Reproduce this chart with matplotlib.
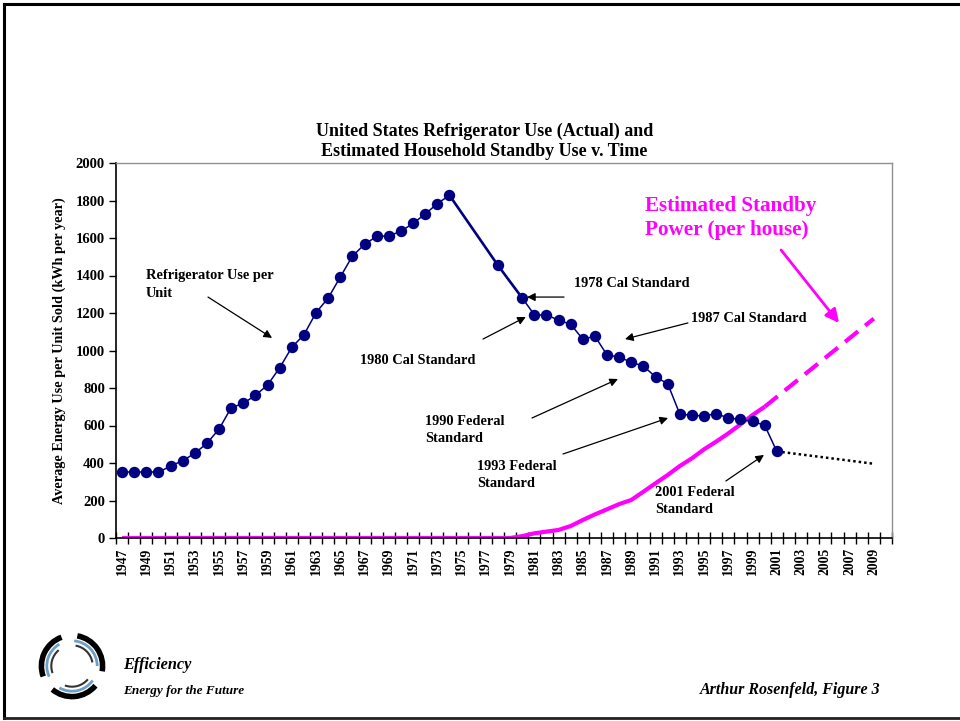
import matplotlib
matplotlib.use("Agg")
import matplotlib.pyplot as plt
from matplotlib.lines import Line2D
from matplotlib.patches import Arc
import numpy as np

# ---------------- data ----------------
fridge_years = [1947, 1948, 1949, 1950, 1951, 1952, 1953, 1954, 1955, 1956,
                1957, 1958, 1959, 1960, 1961, 1962, 1963, 1964, 1965, 1966,
                1967, 1968, 1969, 1970, 1971, 1972, 1973, 1974, 1978, 1980,
                1981, 1982, 1983, 1984, 1985, 1986, 1987, 1988, 1989, 1990,
                1991, 1992, 1993, 1994, 1995, 1996, 1997, 1998, 1999, 2000,
                2001]
fridge_use = [350, 350, 350, 350, 384, 412, 452, 505, 581, 695,
              718, 761, 816, 908, 1017, 1084, 1202, 1280, 1392, 1504,
              1566, 1609, 1611, 1636, 1678, 1728, 1783, 1828, 1454, 1280,
              1191, 1191, 1161, 1140, 1060, 1076, 976, 965, 937, 917,
              859, 823, 661, 654, 651, 663, 640, 633, 622, 601,
              462]
fridge_proj_years = [2001, 2009]
fridge_proj_use = [462, 396]

standby_years = [1947, 1979, 1980, 1981, 1982, 1983, 1984, 1985, 1986, 1987,
                 1988, 1989, 1990, 1991, 1992, 1993, 1994, 1995, 1996, 1997,
                 1998, 1999, 2000]
standby_use = [0, 0, 10, 25, 34, 43, 64, 96, 126, 153,
               181, 203, 247, 292, 336, 384, 425, 473, 514, 558,
               606, 656, 700]
standby_proj_years = [2000, 2009]
standby_proj_use = [700, 1170]

all_years = list(range(1947, 2011))
label_years = list(range(1947, 2010, 2))
y_ticks = list(range(0, 2001, 200))

title = "United States Refrigerator Use (Actual) and\nEstimated Household Standby Use v. Time"
ylabel = "Average Energy Use per Unit Sold (kWh per year)"

annotations = [
    # text, text position (x, y), arrow tail, arrow head, vertical alignment
    ("Refrigerator Use per\nUnit", (1948.97, 1432), (1954.09, 1285), (1959.37, 1067), "top"),
    ("1980 Cal Standard", (1966.6, 949), (1976.77, 1061), (1980.3, 1179), "center"),
    ("1978 Cal Standard", (1984.27, 1355), (1983.45, 1285), (1980.4, 1285), "center"),
    ("1987 Cal Standard", (1993.92, 1173), (1993.67, 1147), (1988.48, 1061), "center"),
    ("1990 Federal\nStandard", (1971.98, 576), (1980.81, 640), (1987.9, 848), "center"),
    ("1993 Federal\nStandard", (1976.27, 336), (1983.37, 448), (1992.03, 640), "center"),
    ("2001 Federal\nStandard", (1990.95, 197), (1996.8, 304), (1999.94, 443), "center"),
]
standby_label = "Estimated Standby\nPower (per house)"

NAVY = "#000080"
MAGENTA = "#FF00FF"
SERIF = ["Liberation Serif", "DejaVu Serif"]

plt.rcParams["font.family"] = SERIF
plt.rcParams["font.weight"] = "bold"

fig = plt.figure(figsize=(9.6, 7.21), dpi=100)
ax = fig.add_axes([116 / 960, 1 - 538 / 721, (892 - 116) / 960, (538 - 163) / 721])

# standby (magenta)
ax.plot(standby_years, standby_use, color=MAGENTA, lw=3.0, solid_capstyle="butt", zorder=2)
ax.plot(standby_proj_years, standby_proj_use, color=MAGENTA, lw=3.0,
        dashes=(4, 2.2), zorder=2)

# refrigerator
fy = np.array(fridge_years)
fu = np.array(fridge_use)
for i in range(len(fy) - 1):
    gap = fy[i + 1] - fy[i] > 1
    ax.plot(fy[i:i + 2], fu[i:i + 2], color=NAVY, lw=1.9 if gap else 1.1, zorder=3)
ax.plot(fy, fu, linestyle="none", marker="o", ms=7.2, color=NAVY, zorder=4)
ax.plot(fridge_proj_years, fridge_proj_use, color="black", lw=1.8,
        linestyle=(0, (1, 1.2)), zorder=3)

# axes
ax.set_xlim(1946.5, 2010.5)
ax.set_ylim(0, 2000)
ax.set_yticks(y_ticks)
ax.set_yticklabels([str(v) for v in y_ticks], fontsize=10.5, fontweight="bold")
ax.set_xticks([y - 0.5 for y in all_years] + [all_years[-1] + 0.5])
ax.set_xticklabels([])
ax.set_xticks(label_years, minor=True)
ax.set_xticklabels([str(y) for y in label_years], minor=True, rotation=90,
                   fontsize=9.8, fontweight="bold")
ax.tick_params(axis="x", which="major", direction="inout", length=8, width=1)
ax.tick_params(axis="x", which="minor", length=0, pad=7)
ax.tick_params(axis="y", direction="out", length=5, width=1, pad=3)

for s in ("left", "bottom"):
    ax.spines[s].set_color("black")
    ax.spines[s].set_linewidth(1.2)
for s in ("top", "right"):
    ax.spines[s].set_color("#909090")
    ax.spines[s].set_linewidth(1.0)

ax.set_ylabel(ylabel, fontsize=10.3, fontweight="bold", labelpad=7)
ax.set_title(title, fontsize=13, fontweight="bold", pad=5, x=0.475, linespacing=1.2)

# annotations
for text, xyt, tail, head, va in annotations:
    ax.text(xyt[0], xyt[1], text, fontsize=10.4, fontweight="bold", ha="left",
            va=va, linespacing=1.42, zorder=5)
    ax.annotate("", xy=head, xytext=tail,
                arrowprops=dict(arrowstyle="-|>", color="black", lw=0.9,
                                mutation_scale=12, shrinkA=0, shrinkB=0))

ax.text(1990.13, 1707, standby_label, fontsize=15.2, fontweight="bold",
        color=MAGENTA, ha="left", va="center", linespacing=1.25)
ax.annotate("", xy=(2006.13, 1147), xytext=(2001.35, 1536),
            arrowprops=dict(arrowstyle="-|>", color=MAGENTA, lw=2.0,
                            mutation_scale=20, shrinkA=0, shrinkB=0))

# footer texts
fig.text(123 / 960, 1 - 665 / 721, "Efficiency", fontsize=11.7, fontweight="bold",
         style="italic", ha="left", va="center")
fig.text(123 / 960, 1 - 691 / 721, "Energy for the Future", fontsize=9.5, fontweight="bold",
         style="italic", ha="left", va="center")
fig.text(880 / 960, 1 - 690 / 721, "Arthur Rosenfeld, Figure 3", fontsize=11.5,
         fontweight="bold", style="italic", ha="right", va="center")

# logo (approximate swirl)
lax = fig.add_axes([36 / 960, 1 - 702 / 721, 72 / 960, 72 / 721])
lax.set_xlim(-1, 1)
lax.set_ylim(-1, 1)
lax.set_aspect("equal")
lax.axis("off")
for k, ang in enumerate([90, 210, 330]):
    lax.add_patch(Arc((0, 0), 1.7, 1.7, angle=ang, theta1=20, theta2=110,
                      color="black", lw=4))
    lax.add_patch(Arc((0, 0), 1.4, 1.4, angle=ang + 10, theta1=20, theta2=105,
                      color="#6f9fc6", lw=2))
    lax.add_patch(Arc((0, 0), 1.15, 1.15, angle=ang + 15, theta1=25, theta2=95,
                      color="#333333", lw=1.5))

# page frame
frame_kw = dict(color="black", lw=2.2, transform=fig.transFigure)
fig.add_artist(Line2D([4 / 960, 4 / 960], [1 - 4 / 721, 1 - 718 / 721], **frame_kw))
fig.add_artist(Line2D([4 / 960, 1], [1 - 4 / 721, 1 - 4 / 721], **frame_kw))
fig.add_artist(Line2D([4 / 960, 1], [1 - 718 / 721, 1 - 718 / 721], color="#222222",
                      lw=2.0, transform=fig.transFigure))

fig.savefig("out.png", dpi=100, facecolor="white")
